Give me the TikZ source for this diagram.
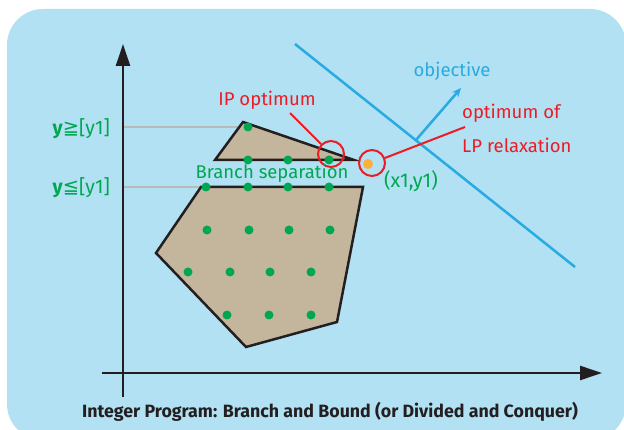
\documentclass[tikz,border=0pt]{standalone}
\usepackage{fontspec}
\setmainfont{Fira Sans}
\newfontfamily\symfont{DejaVu Sans}
\usepackage{xcolor}
\usetikzlibrary{arrows.meta,positioning}

\definecolor{bgblue}{RGB}{178,225,243}
\definecolor{polyfill}{RGB}{196,182,156}
\definecolor{outline}{RGB}{35,31,32}
\definecolor{ptgreen}{RGB}{0,166,81}
\definecolor{optred}{RGB}{237,28,36}
\definecolor{objblue}{RGB}{41,170,226}
\definecolor{lporange}{RGB}{251,176,59}
\definecolor{guidegray}{RGB}{185,185,185}

\begin{document}
\begin{tikzpicture}[
  x=1pt, y=-1pt,
  region/.style={draw=outline, line width=2.5pt, fill=polyfill},
  axis/.style={draw=outline, line width=2.5pt, -{Triangle[length=22pt,width=14pt]}},
  bound/.style={draw=guidegray, line width=2pt},
  ring/.style={circle, draw=optred, line width=2pt, minimum size=26pt, inner sep=0pt},
  leader/.style={draw=optred, line width=2pt},
  objline/.style={draw=objblue, line width=2.5pt},
  lbl/.style={font=\fontsize{18.5}{21}\selectfont, inner sep=1pt}
]
  \useasboundingbox (0,0) rectangle (624,430);
  \fill[bgblue, rounded corners=36pt] (7,9) rectangle (626,440);

  % guides for the branch bounds
  \draw[bound] (123,127) -- (245,127);
  \draw[bound] (123,187) -- (203,187);

  % feasible regions after branching
  \draw[region] (243,122) -- (215,160) -- (354,160) -- cycle;
  \draw[region] (201,187) -- (363,187) -- (337,322) -- (246,347) -- (156,253) -- cycle;

  % integer points
  \foreach \px/\py in {248/127, 248/160, 288/160, 329/160,
                       206/187, 248/187, 288/187, 329/187,
                       207/230, 249/230, 289/230, 330/230,
                       188/272, 230/272, 270/272, 311/272,
                       227/315, 269/315, 311/315}
    \fill[ptgreen] (\px,\py) circle (4.5);

  % axes
  \draw[axis] (123,397) -- (123,44);
  \draw[axis] (102,373) -- (602,373);

  % objective
  \draw[objline] (295,44) -- (575,267);
  \coordinate (objfoot) at (416,140);
  \coordinate (objtip) at (461,88);
  \draw[objline, -{Stealth[length=9pt,width=8pt]}] (objfoot) -- (objtip);
  \node[lbl, text=objblue] (objective) at (452,71) {objective};

  % optima
  \fill[lporange] (368,164) circle (5);
  \node[ring] (ipring) at (331,154) {};
  \node[ring] (lpring) at (372,163) {};
  \node[lbl, text=optred] (iplabel) at (267,100) {IP optimum};
  \coordinate (iptail) at (290,113);
  \draw[leader] (iptail) -- (ipring);
  \node[lbl, text=optred, anchor=west] (lptop) at (461,113) {optimum of};
  \node[lbl, text=optred, anchor=west] (lpbottom) at (461,145) {LP relaxation};
  \coordinate (lptail) at (465,127);
  \draw[leader] (lpring) -- (lptail);

  % labels
  \node[lbl, text=ptgreen] (branch) at (272,173) {Branch separation};
  \node[lbl, text=ptgreen, font=\fontsize{20}{22}\selectfont] (point) at (411,181) {(x1,y1)};
  \node[lbl, text=ptgreen, anchor=east, font=\fontsize{19.5}{22}\selectfont] (upper) at (111,129) {\textbf{y}{\symfont ≧}[y1]};
  \node[lbl, text=ptgreen, anchor=east, font=\fontsize{19.5}{22}\selectfont] (lower) at (111,188) {\textbf{y}{\symfont ≦}[y1]};

  \node[font=\bfseries\fontsize{17.8}{20}\selectfont, text=outline] (caption) at (330,412)
    {Integer Program: Branch and Bound (or Divided and Conquer)};
\end{tikzpicture}
\end{document}
